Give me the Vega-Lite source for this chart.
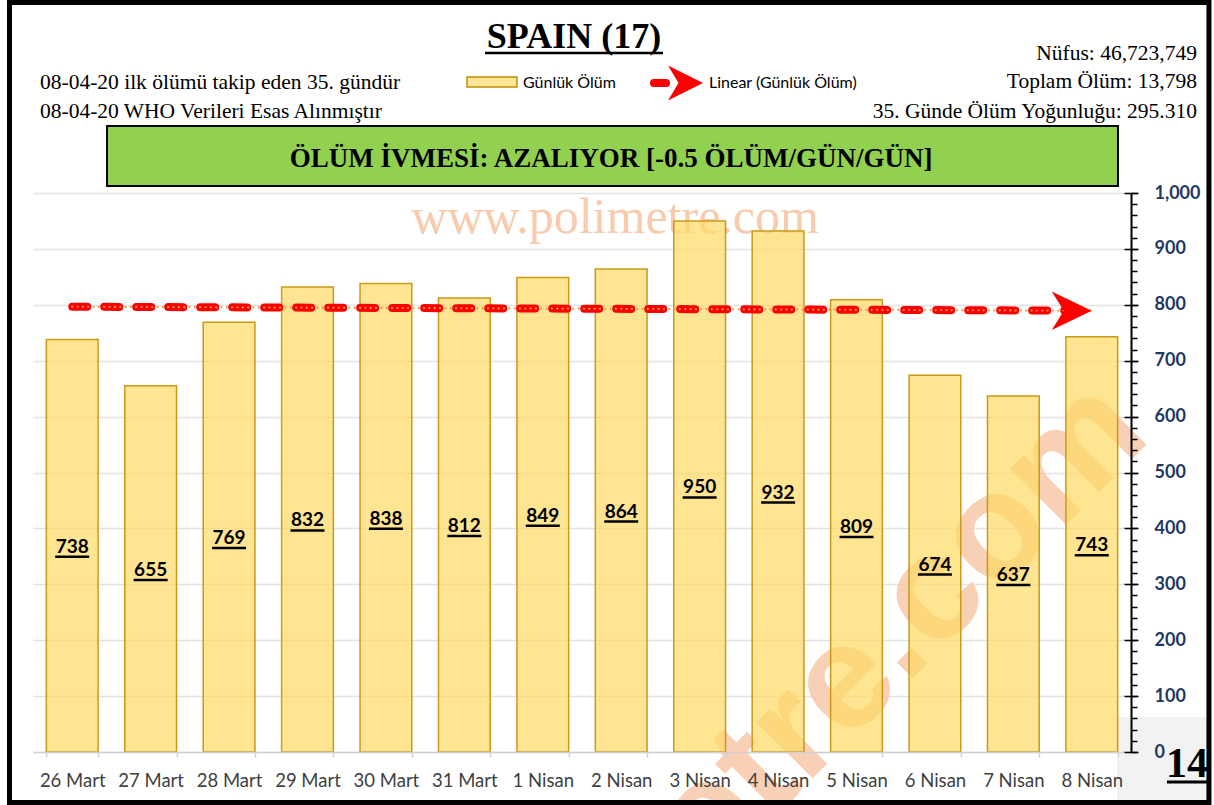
{
  "$schema": "https://vega.github.io/schema/vega-lite/v6.json",
  "width": 1098,
  "height": 559,
  "autosize": {"type": "none"},
  "padding": {"left": 33, "top": 193, "right": 83, "bottom": 53},
  "background": "white",
  "config": {"view": {"stroke": null}},
  "datasets": {
    "d": [
      {"date": "26 Mart", "day": 1, "deaths": 738},
      {"date": "27 Mart", "day": 2, "deaths": 655},
      {"date": "28 Mart", "day": 3, "deaths": 769},
      {"date": "29 Mart", "day": 4, "deaths": 832},
      {"date": "30 Mart", "day": 5, "deaths": 838},
      {"date": "31 Mart", "day": 6, "deaths": 812},
      {"date": "1 Nisan", "day": 7, "deaths": 849},
      {"date": "2 Nisan", "day": 8, "deaths": 864},
      {"date": "3 Nisan", "day": 9, "deaths": 950},
      {"date": "4 Nisan", "day": 10, "deaths": 932},
      {"date": "5 Nisan", "day": 11, "deaths": 809},
      {"date": "6 Nisan", "day": 12, "deaths": 674},
      {"date": "7 Nisan", "day": 13, "deaths": 637},
      {"date": "8 Nisan", "day": 14, "deaths": 743}
    ],
    "one": [{"k": 1}]
  },
  "resolve": {
    "scale": {"x": "independent", "y": "independent"},
    "axis": {"x": "independent", "y": "independent"}
  },
  "layer": [
    {
      "data": {"name": "one"},
      "mark": {"type": "rule", "opacity": 0},
      "encoding": {
        "y": {"datum": 0, "type": "quantitative", "scale": {"domain": [0, 1000], "nice": false, "zero": false},
          "axis": {"orient": "right", "values": [0,100,200,300,400,500,600,700,800,900,1000], "grid": true, "gridColor": "#E3E3E3", "gridWidth": 1.3, "labels": false, "ticks": false, "domain": false, "title": null, "zindex": 0}}
      }
    },
    {
      "data": {"name": "one"},
      "layer": [
        {
          "mark": {"type": "rect", "fill": "#F2F2F2"},
          "encoding": {
            "x": {"datum": 14.321, "type": "quantitative", "scale": {"domain": [0.5, 14.5], "nice": false, "zero": false}, "axis": null},
            "x2": {"datum": 15.494},
            "y": {"datum": 62.6, "type": "quantitative", "scale": {"domain": [0, 1000], "nice": false, "zero": false}, "axis": null},
            "y2": {"datum": -90.3}
          }
        },
        {
          "mark": {"type": "text", "text": "www.polimetre.com", "font": "Liberation Serif", "fontSize": 50, "color": "#F8CBAD", "align": "center", "baseline": "alphabetic"},
          "encoding": {
            "x": {"datum": 7.921, "type": "quantitative", "scale": {"domain": [0.5, 14.5], "nice": false, "zero": false}, "axis": null},
            "y": {"datum": 928.4, "type": "quantitative", "scale": {"domain": [0, 1000], "nice": false, "zero": false}, "axis": null}
          }
        },
        {
          "mark": {"type": "text", "text": "polimetre.com", "font": "Liberation Sans", "fontWeight": "bold", "fontSize": 150, "color": "#F8CBAD", "opacity": 0.9, "align": "right", "baseline": "alphabetic", "angle": -45},
          "encoding": {
            "x": {"datum": 14.78, "type": "quantitative", "scale": {"domain": [0.5, 14.5], "nice": false, "zero": false}, "axis": null},
            "y": {"datum": 561.7, "type": "quantitative", "scale": {"domain": [0, 1000], "nice": false, "zero": false}, "axis": null}
          }
        }
      ]
    },
    {
      "data": {"name": "d"},
      "mark": {"type": "bar", "fill": "#FFD966", "fillOpacity": 0.72, "stroke": "#C99A1A", "strokeWidth": 1.5},
      "encoding": {
        "x": {"field": "date", "type": "nominal", "sort": null,
          "scale": {"paddingInner": 0.34, "paddingOuter": 0.17},
          "axis": {"title": null, "labelAngle": 0, "labelFont": "Lato", "labelFontSize": 18.5, "labelColor": "#404040", "domainColor": "#D0D0D0", "domainWidth": 1.5, "tickColor": "#D0D0D0", "tickSize": 5, "tickWidth": 1.5, "tickBand": "extent", "labelPadding": 14, "grid": false, "zindex": 1}},
        "y": {"field": "deaths", "type": "quantitative", "scale": {"domain": [0, 1000], "nice": false, "zero": false},
          "axis": {"orient": "right", "values": [0,100,200,300,400,500,600,700,800,900,1000], "format": ",d", "title": null, "grid": false,
            "labelFont": "Lato", "labelFontWeight": "bold", "labelFontSize": 18, "labelColor": "#1F3864", "labelPadding": 16,
            "domainColor": "black", "domainWidth": 2, "tickColor": "black", "tickWidth": 1.5, "tickSize": 7, "zindex": 1}}
      }
    },
    {
      "data": {"name": "d"},
      "layer": [
        {
          "mark": {"type": "text", "font": "Lato", "fontSize": 19, "fontWeight": "bold", "color": "black", "baseline": "middle", "dy": 1},
          "encoding": {
            "x": {"field": "date", "type": "nominal", "sort": null, "scale": {"paddingInner": 0.34, "paddingOuter": 0.17}, "axis": null},
            "y": {"field": "deaths", "type": "quantitative", "scale": {"domain": [0, 2000], "nice": false, "zero": false}, "axis": null},
            "text": {"field": "deaths", "type": "quantitative"}
          }
        },
        {
          "mark": {"type": "tick", "orient": "horizontal", "size": 34, "thickness": 2.5, "yOffset": 11, "color": "black", "opacity": 1},
          "encoding": {
            "x": {"field": "date", "type": "nominal", "sort": null, "scale": {"paddingInner": 0.34, "paddingOuter": 0.17}, "axis": null},
            "y": {"field": "deaths", "type": "quantitative", "scale": {"domain": [0, 2000], "nice": false, "zero": false}, "axis": null}
          }
        }
      ]
    },
    {
      "data": {"name": "one"},
      "mark": {"type": "rule", "opacity": 0},
      "encoding": {
        "y": {"datum": 0, "type": "quantitative", "scale": {"domain": [0, 1000], "nice": false, "zero": false},
          "axis": {"orient": "right", "values": [0,20,40,60,80,100,120,140,160,180,200,220,240,260,280,300,320,340,360,380,400,420,440,460,480,500,520,540,560,580,600,620,640,660,680,700,720,740,760,780,800,820,840,860,880,900,920,940,960,980,1000], "labels": false, "domain": false, "grid": false, "tickSize": 6, "tickColor": "black", "tickWidth": 1.5, "title": null, "zindex": 1}}
      }
    },
    {
      "data": {"name": "one"},
      "mark": {"type": "rule", "opacity": 0},
      "encoding": {
        "y": {"datum": 0, "type": "quantitative", "scale": {"domain": [0, 1000], "nice": false, "zero": false},
          "axis": {"orient": "right", "values": [0,100,200,300,400,500,600,700,800,900,1000], "labels": false, "domain": false, "grid": false, "tickSize": -7, "tickColor": "black", "tickWidth": 1.5, "title": null, "zindex": 1}}
      }
    },
    {
      "data": {"name": "d"},
      "transform": [{"regression": "deaths", "on": "day", "extent": [1, 14]}],
      "layer": [
        {
          "mark": {"type": "line", "color": "#FF0000", "strokeWidth": 8, "strokeCap": "round", "strokeDash": [15, 17]},
          "encoding": {
            "x": {"field": "day", "type": "quantitative", "scale": {"domain": [0.5, 14.5], "nice": false, "zero": false}, "axis": null},
            "y": {"field": "deaths", "type": "quantitative", "scale": {"domain": [0, 1000], "nice": false, "zero": false}, "axis": null}
          }
        },
        {
          "mark": {"type": "line", "color": "#F79646", "strokeWidth": 2.2, "strokeCap": "round", "strokeDash": [0.1, 5.23]},
          "encoding": {
            "x": {"field": "day", "type": "quantitative", "scale": {"domain": [0.5, 14.5], "nice": false, "zero": false}, "axis": null},
            "y": {"field": "deaths", "type": "quantitative", "scale": {"domain": [0, 1000], "nice": false, "zero": false}, "axis": null}
          }
        },
        {
          "transform": [{"filter": "datum.day > 13"}],
          "mark": {"type": "point", "shape": "M0,0 L-1,-0.48 L-0.7,0 L-1,0.48 Z", "size": 6400, "filled": true, "color": "#FF0000", "opacity": 1, "strokeWidth": 0},
          "encoding": {
            "x": {"field": "day", "type": "quantitative", "scale": {"domain": [0.5, 14.5], "nice": false, "zero": false}, "axis": null},
            "y": {"field": "deaths", "type": "quantitative", "scale": {"domain": [0, 1000], "nice": false, "zero": false}, "axis": null}
          }
        }
      ]
    },
    {
      "data": {"name": "one"},
      "layer": [
        {
          "mark": {"type": "rect", "fillOpacity": 0, "stroke": "black", "strokeWidth": 5},
          "encoding": {
            "x": {"datum": 0.2004, "type": "quantitative", "scale": {"domain": [0.5, 14.5], "nice": false, "zero": false}, "axis": null},
            "x2": {"datum": 15.494},
            "y": {"datum": 1340.8, "type": "quantitative", "scale": {"domain": [0, 1000], "nice": false, "zero": false}, "axis": null},
            "y2": {"datum": -90.3}
          }
        },
        {
          "mark": {"type": "text", "text": "SPAIN (17)", "font": "Liberation Serif", "fontWeight": "bold", "fontSize": 36, "color": "black", "align": "center", "baseline": "alphabetic"},
          "encoding": {
            "x": {"datum": 7.398, "type": "quantitative", "scale": {"domain": [0.5, 14.5], "nice": false, "zero": false}, "axis": null},
            "y": {"datum": 1259.4, "type": "quantitative", "scale": {"domain": [0, 1000], "nice": false, "zero": false}, "axis": null}
          }
        },
        {
          "mark": {"type": "rule", "color": "black", "strokeWidth": 2.5},
          "encoding": {
            "x": {"datum": 6.263, "type": "quantitative", "scale": {"domain": [0.5, 14.5], "nice": false, "zero": false}, "axis": null},
            "x2": {"datum": 8.533},
            "y": {"datum": 1250.4, "type": "quantitative", "scale": {"domain": [0, 1000], "nice": false, "zero": false}, "axis": null}
          }
        },
        {
          "mark": {"type": "rect", "fill": "#FFE699", "stroke": "#BF9000", "strokeWidth": 1.5},
          "encoding": {
            "x": {"datum": 6.034, "type": "quantitative", "scale": {"domain": [0.5, 14.5], "nice": false, "zero": false}, "axis": null},
            "x2": {"datum": 6.671},
            "y": {"datum": 1207.5, "type": "quantitative", "scale": {"domain": [0, 1000], "nice": false, "zero": false}, "axis": null},
            "y2": {"datum": 1189.6}
          }
        },
        {
          "mark": {"type": "text", "text": "Günlük Ölüm", "font": "Lato", "fontSize": 16, "color": "black", "align": "left", "baseline": "alphabetic"},
          "encoding": {
            "x": {"datum": 6.748, "type": "quantitative", "scale": {"domain": [0.5, 14.5], "nice": false, "zero": false}, "axis": null},
            "y": {"datum": 1187.8, "type": "quantitative", "scale": {"domain": [0, 1000], "nice": false, "zero": false}, "axis": null}
          }
        },
        {
          "mark": {"type": "rule", "color": "#FF0000", "strokeWidth": 8, "strokeCap": "round"},
          "encoding": {
            "x": {"datum": 8.418, "type": "quantitative", "scale": {"domain": [0.5, 14.5], "nice": false, "zero": false}, "axis": null},
            "x2": {"datum": 8.571},
            "y": {"datum": 1196.8, "type": "quantitative", "scale": {"domain": [0, 1000], "nice": false, "zero": false}, "axis": null}
          }
        },
        {
          "mark": {"type": "point", "shape": "M0,0 L-1,-0.5 L-0.7,0 L-1,0.5 Z", "size": 4900, "filled": true, "color": "#FF0000", "opacity": 1, "strokeWidth": 0},
          "encoding": {
            "x": {"datum": 9.043, "type": "quantitative", "scale": {"domain": [0.5, 14.5], "nice": false, "zero": false}, "axis": null},
            "y": {"datum": 1196.8, "type": "quantitative", "scale": {"domain": [0, 1000], "nice": false, "zero": false}, "axis": null}
          }
        },
        {
          "mark": {"type": "text", "text": "Linear (Günlük Ölüm)", "font": "Lato", "fontSize": 16, "color": "black", "align": "left", "baseline": "alphabetic"},
          "encoding": {
            "x": {"datum": 9.119, "type": "quantitative", "scale": {"domain": [0.5, 14.5], "nice": false, "zero": false}, "axis": null},
            "y": {"datum": 1187.8, "type": "quantitative", "scale": {"domain": [0, 1000], "nice": false, "zero": false}, "axis": null}
          }
        },
        {
          "mark": {"type": "text", "text": "08-04-20 ilk ölümü takip eden 35. gündür", "font": "Liberation Serif", "fontSize": 21.5, "color": "black", "align": "left", "baseline": "alphabetic"},
          "encoding": {
            "x": {"datum": 0.589, "type": "quantitative", "scale": {"domain": [0.5, 14.5], "nice": false, "zero": false}, "axis": null},
            "y": {"datum": 1186.0, "type": "quantitative", "scale": {"domain": [0, 1000], "nice": false, "zero": false}, "axis": null}
          }
        },
        {
          "mark": {"type": "text", "text": "08-04-20 WHO Verileri Esas Alınmıştır", "font": "Liberation Serif", "fontSize": 21.5, "color": "black", "align": "left", "baseline": "alphabetic"},
          "encoding": {
            "x": {"datum": 0.589, "type": "quantitative", "scale": {"domain": [0.5, 14.5], "nice": false, "zero": false}, "axis": null},
            "y": {"datum": 1134.2, "type": "quantitative", "scale": {"domain": [0, 1000], "nice": false, "zero": false}, "axis": null}
          }
        },
        {
          "mark": {"type": "text", "text": "Nüfus: 46,723,749", "font": "Liberation Serif", "fontSize": 21.5, "color": "black", "align": "right", "baseline": "alphabetic"},
          "encoding": {
            "x": {"datum": 15.341, "type": "quantitative", "scale": {"domain": [0.5, 14.5], "nice": false, "zero": false}, "axis": null},
            "y": {"datum": 1237.9, "type": "quantitative", "scale": {"domain": [0, 1000], "nice": false, "zero": false}, "axis": null}
          }
        },
        {
          "mark": {"type": "text", "text": "Toplam Ölüm: 13,798", "font": "Liberation Serif", "fontSize": 21.5, "color": "black", "align": "right", "baseline": "alphabetic"},
          "encoding": {
            "x": {"datum": 15.341, "type": "quantitative", "scale": {"domain": [0.5, 14.5], "nice": false, "zero": false}, "axis": null},
            "y": {"datum": 1187.8, "type": "quantitative", "scale": {"domain": [0, 1000], "nice": false, "zero": false}, "axis": null}
          }
        },
        {
          "mark": {"type": "text", "text": "35. Günde Ölüm Yoğunluğu: 295.310", "font": "Liberation Serif", "fontSize": 21.5, "color": "black", "align": "right", "baseline": "alphabetic"},
          "encoding": {
            "x": {"datum": 15.341, "type": "quantitative", "scale": {"domain": [0.5, 14.5], "nice": false, "zero": false}, "axis": null},
            "y": {"datum": 1134.2, "type": "quantitative", "scale": {"domain": [0, 1000], "nice": false, "zero": false}, "axis": null}
          }
        },
        {
          "mark": {"type": "rect", "fill": "#92D050", "stroke": "black", "strokeWidth": 2},
          "encoding": {
            "x": {"datum": 1.444, "type": "quantitative", "scale": {"domain": [0.5, 14.5], "nice": false, "zero": false}, "axis": null},
            "x2": {"datum": 14.334},
            "y": {"datum": 1119.9, "type": "quantitative", "scale": {"domain": [0, 1000], "nice": false, "zero": false}, "axis": null},
            "y2": {"datum": 1012.5}
          }
        },
        {
          "mark": {"type": "text", "text": "ÖLÜM İVMESİ: AZALIYOR [-0.5 ÖLÜM/GÜN/GÜN]", "font": "Liberation Serif", "fontWeight": "bold", "fontSize": 27, "color": "black", "align": "center", "baseline": "alphabetic"},
          "encoding": {
            "x": {"datum": 7.87, "type": "quantitative", "scale": {"domain": [0.5, 14.5], "nice": false, "zero": false}, "axis": null},
            "y": {"datum": 1046.5, "type": "quantitative", "scale": {"domain": [0, 1000], "nice": false, "zero": false}, "axis": null}
          }
        },
        {
          "mark": {"type": "text", "text": "14", "font": "Liberation Serif", "fontWeight": "bold", "fontSize": 42, "color": "black", "align": "center", "baseline": "alphabetic"},
          "encoding": {
            "x": {"datum": 15.214, "type": "quantitative", "scale": {"domain": [0.5, 14.5], "nice": false, "zero": false}, "axis": null},
            "y": {"datum": -44.7, "type": "quantitative", "scale": {"domain": [0, 1000], "nice": false, "zero": false}, "axis": null}
          }
        },
        {
          "mark": {"type": "rule", "color": "black", "strokeWidth": 3},
          "encoding": {
            "x": {"datum": 14.959, "type": "quantitative", "scale": {"domain": [0.5, 14.5], "nice": false, "zero": false}, "axis": null},
            "x2": {"datum": 15.469},
            "y": {"datum": -53.7, "type": "quantitative", "scale": {"domain": [0, 1000], "nice": false, "zero": false}, "axis": null}
          }
        }
      ]
    }
  ]
}
